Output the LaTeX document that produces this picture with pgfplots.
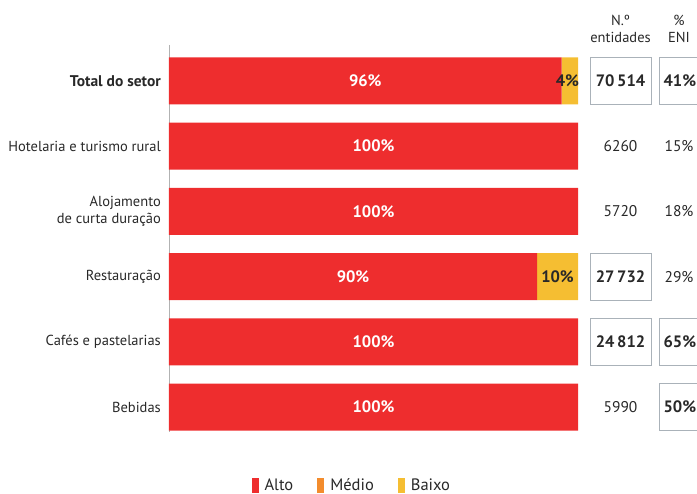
\documentclass[border=0pt]{standalone}
\usepackage{fontspec}
\setmainfont{PT Sans}
\usepackage{pgfplots}
\pgfplotsset{compat=1.18}
\definecolor{alto}{RGB}{238,45,46}
\definecolor{medio}{RGB}{243,140,45}
\definecolor{baixo}{RGB}{245,190,50}
\definecolor{txt}{RGB}{40,40,40}
\definecolor{boxline}{RGB}{170,178,185}
\newcommand{\lf}{\fontsize{14.5}{16.5}\selectfont}
\newcommand{\vf}{\fontsize{15.5}{17}\selectfont}
\newcommand{\bfv}{\fontsize{16.5}{18}\selectfont\bfseries}
\tikzset{
 tx/.style={font=\vf,text=txt},
 bx/.style={draw=boxline,line width=0.8pt,minimum height=47pt,font=\bfv,text=txt},
}
\pgfplotsset{base/.style={
 at={(169pt,62pt)},anchor=south west,
 scale only axis,width=409pt,height=387pt,
 xmin=0,xmax=100,ymin=-0.55,ymax=5.38,y dir=reverse,clip=false}}

\begin{document}
\begin{tikzpicture}
\path[use as bounding box] (0,0) rectangle (697pt,494pt);
\begin{axis}[base,
 xbar stacked,bar width=47pt,
 axis x line=none,axis y line*=left,
 y axis line style={gray!60,line width=0.8pt},
 major tick length=0pt,
 ytick={0,...,5},
 yticklabels={{\fontsize{15.5}{17}\selectfont\bfseries Total do setor},Hotelaria e turismo rural,Alojamento\\de curta duração,Restauração,Cafés e pastelarias,Bebidas},
 yticklabel style={align=right,inner sep=0pt,xshift=-8pt,font=\lf,text=txt},
 legend style={at={(0.447,-0.137)},anchor=center,draw=none,legend columns=3,font=\fontsize{16.5}{18}\selectfont,text=txt,
  /tikz/every odd column/.append style={column sep=4pt},
  /tikz/every even column/.append style={column sep=22pt}},
 legend image code/.code={\fill[#1] (0pt,-7.5pt) rectangle (7pt,7.5pt);},
]
\addplot[fill=alto,draw=none] coordinates
 {(96,0) (100,1) (100,2) (90,3) (100,4) (100,5)};
\addplot[fill=medio,draw=none] coordinates
 {(0,0) (0,1) (0,2) (0,3) (0,4) (0,5)};
\addplot[fill=baixo,draw=none] coordinates
 {(4,0) (0,1) (0,2) (10,3) (0,4) (0,5)};
\legend{Alto,Médio,Baixo}
\end{axis}
% rótulos das barras e colunas laterais
\begin{axis}[base,hide axis,point meta=explicit symbolic,
 nodes near coords,
 every node near coord/.append style={anchor=center,font=\bfv}]
\addplot[only marks,mark=none,every node near coord/.append style={text=white}] coordinates
 {(48,0)[96\%] (50,1)[100\%] (50,2)[100\%] (45,3)[90\%] (50,4)[100\%] (50,5)[100\%]};
\addplot[only marks,mark=none,every node near coord/.append style={text=txt}] coordinates
 {(97.4,0)[4\%] (95,3)[10\%]};
\node[align=center,font=\lf,text=txt] at (axis cs:110.4,-0.80) {N.º\\entidades};
\node[align=center,font=\lf,text=txt] at (axis cs:124.7,-0.80) {\%\\ENI};
\node[bx,minimum width=61pt] at (axis cs:110.4,0) {70\,514};
\node[bx,minimum width=40pt] at (axis cs:124.9,0) {41\%};
\node[tx] at (axis cs:110.4,1) {6260};
\node[tx] at (axis cs:124.7,1) {15\%};
\node[tx] at (axis cs:110.4,2) {5720};
\node[tx] at (axis cs:124.7,2) {18\%};
\node[bx,minimum width=61pt] at (axis cs:110.4,3) {27\,732};
\node[tx] at (axis cs:124.7,3) {29\%};
\node[bx,minimum width=61pt] at (axis cs:110.4,4) {24\,812};
\node[bx,minimum width=40pt] at (axis cs:124.9,4) {65\%};
\node[tx] at (axis cs:110.4,5) {5990};
\node[bx,minimum width=40pt] at (axis cs:124.9,5) {50\%};
\end{axis}
\end{tikzpicture}
\end{document}
